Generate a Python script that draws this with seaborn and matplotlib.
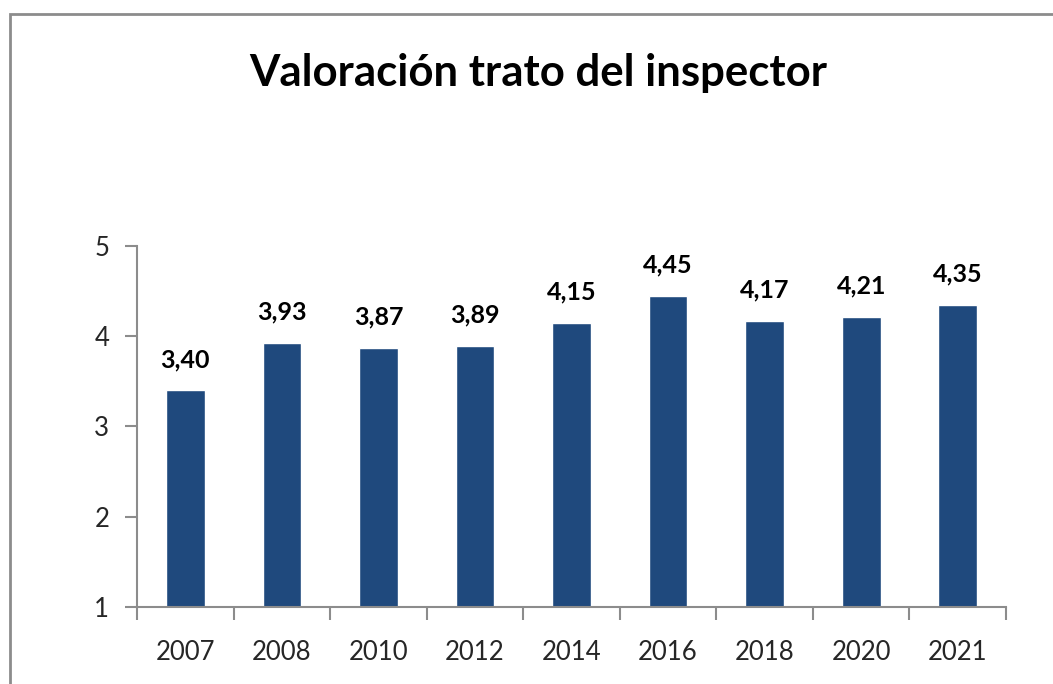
import matplotlib
matplotlib.use("Agg")
import matplotlib.pyplot as plt
import seaborn as sns
import pandas as pd
import numpy as np
from matplotlib.patches import Rectangle

years = ["2007", "2008", "2010", "2012", "2014", "2016", "2018", "2020", "2021"]
values = [3.40, 3.93, 3.87, 3.89, 4.15, 4.45, 4.17, 4.21, 4.35]
labels = ["3,40", "3,93", "3,87", "3,89", "4,15", "4,45", "4,17", "4,21", "4,35"]
yticks = [1, 2, 3, 4, 5]

sns.set_style("white")
plt.rcParams['font.family'] = ['Lato', 'DejaVu Sans']

fig = plt.figure(figsize=(10.53, 6.84), dpi=100)
ax = fig.add_axes([0.1301, 0.1126, 0.8253, 0.5278])

df = pd.DataFrame({"year": years, "value": values})
sns.barplot(data=df, x="year", y="value", color="#1f497d", saturation=1, width=0.4, ax=ax)

ax.set_ylim(1, 5)
ax.set_xlim(-0.5, len(years) - 0.5)
ax.set_yticks(yticks)
ax.set_yticklabels([str(t) for t in yticks])
ax.set_xlabel("")
ax.set_ylabel("")

for s in ["top", "right"]:
    ax.spines[s].set_visible(False)
for s in ["left", "bottom"]:
    ax.spines[s].set_color("#8c8c8c")
    ax.spines[s].set_linewidth(1.5)

ax.tick_params(axis="y", which="major", length=9, width=1.5, color="#8c8c8c",
               direction="out", labelsize=18.5, pad=11, left=True)
ax.tick_params(axis="x", which="major", length=0, labelsize=18.5, pad=24)
ax.set_xticks(np.arange(-0.5, len(years), 1.0), minor=True)
ax.tick_params(axis="x", which="minor", length=9, width=1.5, color="#8c8c8c",
               direction="out", bottom=True)

for i, (v, lab) in enumerate(zip(values, labels)):
    ax.annotate(lab, xy=(i, v), xytext=(0, 14), textcoords="offset points",
                ha="center", va="bottom", fontsize=18, fontweight="bold", color="black")

fig.text(0.511, 0.893, "Valoración trato del inspector", ha="center", va="center",
         fontsize=31.5, fontweight="bold", color="black")

border = Rectangle((10 / 1053, -0.05), 1.1, 1 - 14 / 684 + 0.05, transform=fig.transFigure,
                   fill=False, edgecolor="#8c8c8c", linewidth=2)
fig.patches.append(border)

fig.savefig("out.png", dpi=100)
